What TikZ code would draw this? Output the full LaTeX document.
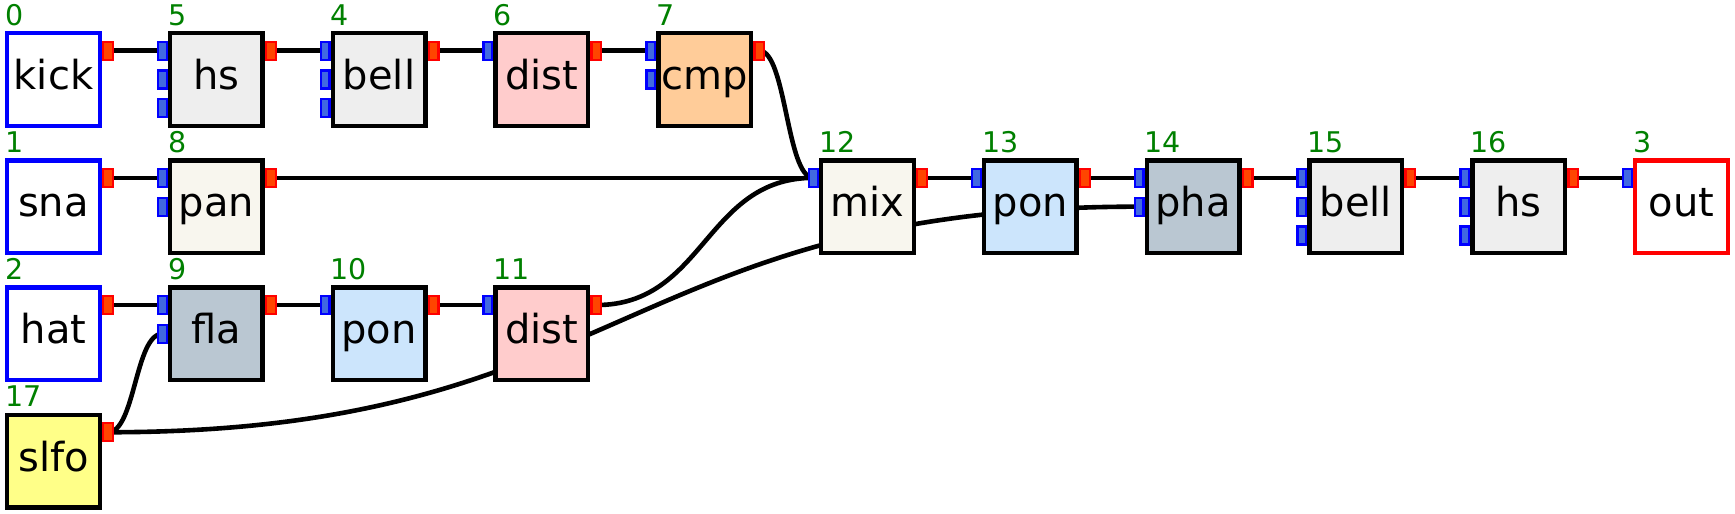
\documentclass[tikz,border=0pt]{standalone}
\usepackage{fontspec}
\setmainfont{DejaVu Sans}
\usepackage{xcolor}
\usepackage{tikz}
\usetikzlibrary{calc,backgrounds}
\definecolor{hsgray}{HTML}{EEEEEE}
\definecolor{mixivory}{HTML}{F8F6EE}
\definecolor{distpink}{HTML}{FFCCCC}
\definecolor{cmporange}{HTML}{FFCC99}
\definecolor{flaslate}{HTML}{BAC7D2}
\definecolor{ponblue}{HTML}{CCE5FC}
\definecolor{lfoyellow}{HTML}{FFFF88}
\definecolor{portred}{HTML}{FF4500}
\definecolor{portblue}{HTML}{4169E1}
\newcommand{\outport}[1]{\node[outport, anchor=north west] (#1-o) at ([yshift=-9.5pt]#1.north east) {};}
\newcommand{\inport}[2]{\node[inport, anchor=north east] (#1-i#2) at ([yshift={-9.5pt-(#2-1)*28.8pt}]#1.north west) {};}
\newcommand{\boxnum}[2]{\node[numlabel, anchor=base west] (#1-n) at ([yshift=6pt]#1.north west) {#2};}
\newcommand{\patchwire}[2]{\draw[wire] let \p1=(#1.center), \p2=(#2.center) in
  (\p1) .. controls ({0.5*\x1+0.5*\x2},\y1) and ({0.5*\x1+0.5*\x2},\y2) .. (\p2);}

\begin{document}
\begin{tikzpicture}[
    x=1pt,
    y=-1pt,
    box/.style={
        rectangle,
        draw,
        line width=4.4pt,
        minimum size=92.6pt,
        inner sep=0pt,
        text height=30pt,
        text depth=10pt,
        font=\fontsize{40}{48}\selectfont
    },
    srcbox/.style={box, draw=blue, fill=white},
    sinkbox/.style={box, draw=red, fill=white},
    outport/.style={
        rectangle,
        draw=red,
        fill=portred,
        line width=2.3pt,
        minimum width=9.7pt,
        minimum height=18pt,
        inner sep=0pt
    },
    inport/.style={
        rectangle,
        draw=blue,
        fill=portblue,
        line width=2.3pt,
        minimum width=8.7pt,
        minimum height=18pt,
        inner sep=0pt
    },
    numlabel/.style={
        text=green!50!black,
        font=\fontsize{28.5}{30}\selectfont,
        inner sep=0pt
    },
    wire/.style={line width=4.6pt}
]

\useasboundingbox (0,0) rectangle (1735,514);

% sources
\node[srcbox] (kick) at (53.5,79.5) {kick};
\node[srcbox] (sna) at (53.5,206.7) {sna};
\node[srcbox] (hat) at (53.5,333.9) {hat};
\node[box, fill=lfoyellow] (slfo) at (53.5,461.1) {slfo};

% kick chain
\node[box, fill=hsgray] (hsA) at (216.3,79.5) {hs};
\node[box, fill=hsgray] (bellA) at (379.1,79.5) {bell};
\node[box, fill=distpink] (distA) at (541.9,79.5) {dist};
\node[box, fill=cmporange] (cmp) at (704.7,79.5) {cmp};

% snare and hat chains
\node[box, fill=mixivory] (pan) at (216.3,206.7) {pan};
\node[box, fill=flaslate] (fla) at (216.3,333.9) {fla};
\node[box, fill=ponblue] (ponA) at (379.1,333.9) {pon};
\node[box, fill=distpink] (distB) at (541.9,333.9) {dist};

% master chain
\node[box, fill=mixivory] (mix) at (867.5,206.7) {mix};
\node[box, fill=ponblue] (ponB) at (1030.3,206.7) {pon};
\node[box, fill=flaslate] (pha) at (1193.1,206.7) {pha};
\node[box, fill=hsgray] (bellB) at (1355.9,206.7) {bell};
\node[box, fill=hsgray] (hsB) at (1518.7,206.7) {hs};
\node[sinkbox] (out) at (1681.5,206.7) {out};

% numbers
\boxnum{kick}{0}
\boxnum{sna}{1}
\boxnum{hat}{2}
\boxnum{out}{3}
\boxnum{bellA}{4}
\boxnum{hsA}{5}
\boxnum{distA}{6}
\boxnum{cmp}{7}
\boxnum{pan}{8}
\boxnum{fla}{9}
\boxnum{ponA}{10}
\boxnum{distB}{11}
\boxnum{mix}{12}
\boxnum{ponB}{13}
\boxnum{pha}{14}
\boxnum{bellB}{15}
\boxnum{hsB}{16}
\boxnum{slfo}{17}

% output ports
\outport{kick}
\outport{sna}
\outport{hat}
\outport{slfo}
\outport{hsA}
\outport{bellA}
\outport{distA}
\outport{cmp}
\outport{pan}
\outport{fla}
\outport{ponA}
\outport{distB}
\outport{mix}
\outport{ponB}
\outport{pha}
\outport{bellB}
\outport{hsB}

% input ports
\inport{hsA}{1} \inport{hsA}{2} \inport{hsA}{3}
\inport{bellA}{1} \inport{bellA}{2} \inport{bellA}{3}
\inport{distA}{1}
\inport{cmp}{1} \inport{cmp}{2}
\inport{pan}{1} \inport{pan}{2}
\inport{fla}{1} \inport{fla}{2}
\inport{ponA}{1}
\inport{distB}{1}
\inport{mix}{1}
\inport{ponB}{1}
\inport{pha}{1} \inport{pha}{2}
\inport{bellB}{1} \inport{bellB}{2} \inport{bellB}{3}
\inport{hsB}{1} \inport{hsB}{2} \inport{hsB}{3}
\inport{out}{1}

% wires
\begin{scope}[on background layer]
\patchwire{kick-o}{hsA-i1}
\patchwire{hsA-o}{bellA-i1}
\patchwire{bellA-o}{distA-i1}
\patchwire{distA-o}{cmp-i1}
\patchwire{cmp-o}{mix-i1}
\patchwire{sna-o}{pan-i1}
\patchwire{pan-o}{mix-i1}
\patchwire{hat-o}{fla-i1}
\patchwire{fla-o}{ponA-i1}
\patchwire{ponA-o}{distB-i1}
\patchwire{distB-o}{mix-i1}
\patchwire{slfo-o}{fla-i2}
\patchwire{slfo-o}{pha-i2}
\patchwire{mix-o}{ponB-i1}
\patchwire{ponB-o}{pha-i1}
\patchwire{pha-o}{bellB-i1}
\patchwire{bellB-o}{hsB-i1}
\patchwire{hsB-o}{out-i1}
\end{scope}

\end{tikzpicture}
\end{document}
